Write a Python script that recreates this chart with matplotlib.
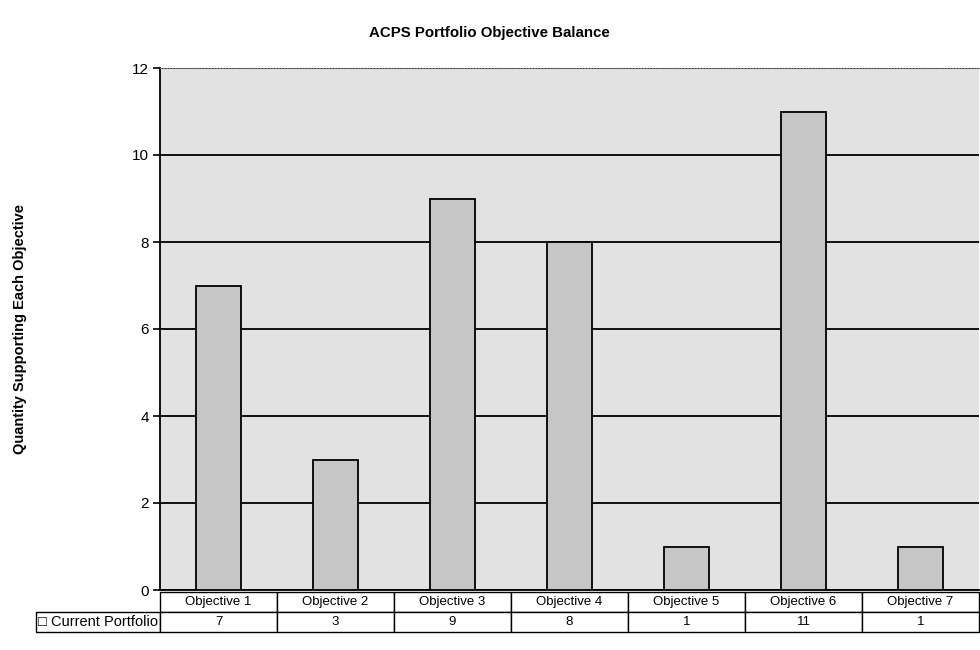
import matplotlib.pyplot as plt
import numpy as np

objectives = ['Objective 1', 'Objective 2', 'Objective 3', 'Objective 4',
              'Objective 5', 'Objective 6', 'Objective 7']
current_portfolio = [7, 3, 9, 8, 1, 11, 1]
series_name = 'Current Portfolio'

plt.rcParams['font.family'] = ['Liberation Sans', 'DejaVu Sans']

fig = plt.figure(figsize=(9.8, 6.5), dpi=100)
ax = fig.add_axes([160 / 980, 60 / 650, 819 / 980, 522 / 650])

x = np.arange(len(objectives))
ax.set_facecolor('#e2e2e2')
ax.bar(x, current_portfolio, width=0.39, color='#c6c6c6',
       edgecolor='black', linewidth=1.3, zorder=3)

ax.set_xlim(-0.5, len(objectives) - 0.5)
ax.set_ylim(0, 12)
ax.set_yticks(range(0, 13, 2))
ax.set_xticks([])
ax.yaxis.grid(True, color='black', linewidth=1.3)
ax.set_axisbelow(True)

# spines: solid left, dotted grey top, nothing on the right
ax.spines['left'].set_linewidth(1.3)
ax.spines['bottom'].set_linewidth(1.3)
ax.spines['top'].set_color('#777777')
ax.spines['top'].set_linestyle(':')
ax.spines['right'].set_visible(False)
ax.tick_params(axis='y', direction='out', length=5, width=1.2,
               labelsize=11, pad=3)

ax.set_ylabel('Quantity Supporting Each Objective', fontsize=10.5,
              fontweight='bold')
ax.yaxis.set_label_coords(-0.162, 0.5)

fig.text(0.499, 1 - 33 / 650, 'ACPS Portfolio Objective Balance',
         ha='center', va='center', fontsize=10.8, fontweight='bold')

# data table underneath the bars; widths/heights given in axes units
col_w = 1 / len(objectives)
lab_w = 135 / 819
row_h = 20 / 522
tbl = ax.table(cellText=[[str(v) for v in current_portfolio]],
               rowLabels=['\u25a1 ' + series_name],
               colLabels=objectives,
               cellLoc='center', rowLoc='left',
               bbox=[0, -2 * row_h - 2 / 522, 1, 2 * row_h])
tbl.auto_set_font_size(False)
tbl.set_fontsize(9.5)
for (r, c), cell in tbl.get_celld().items():
    cell.set_edgecolor('black')
    cell.set_linewidth(1.0)
    cell.set_facecolor('white')
    cell.set_width(lab_w if c == -1 else col_w)
    cell.set_height(row_h)
    if c == -1:
        cell.PAD = 0.015
        cell.get_text().set_fontsize(10.5)

fig.savefig('out.png', dpi=100)
